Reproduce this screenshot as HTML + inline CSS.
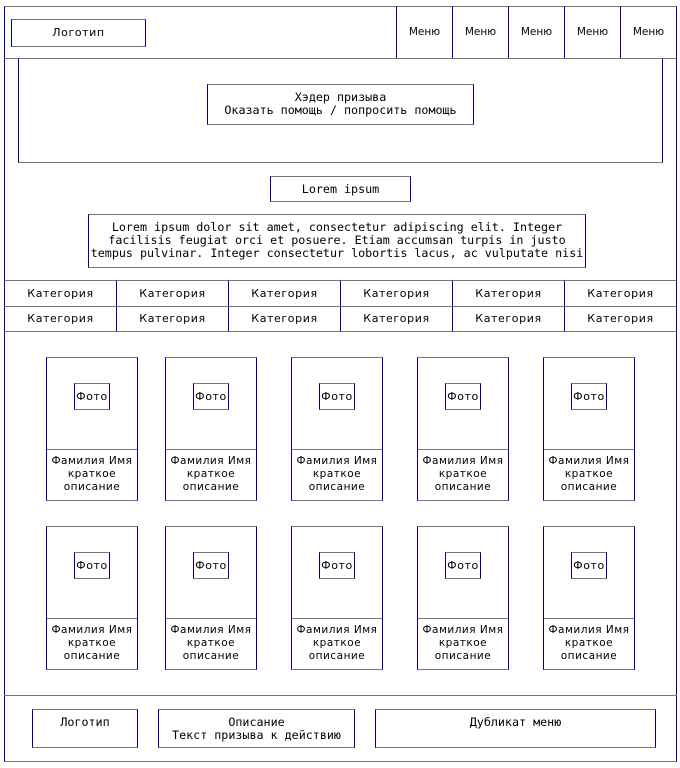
<!DOCTYPE html>
<html><head><meta charset="utf-8"><style>
*{margin:0;padding:0;box-sizing:border-box}
body{width:680px;height:768px;background:#fff;position:relative;overflow:hidden;font-family:"DejaVu Sans Mono","Liberation Mono",monospace;font-size:11.7px;color:#000}
.b{position:absolute;border-style:solid;border-width:1px;border-color:#777 #0000a0;text-align:center;line-height:13px}
.s{font-family:"DejaVu Sans","Liberation Sans",sans-serif;font-size:11px;letter-spacing:0.6px}
.c{position:absolute;width:92px;height:144px;border:1px solid;border-color:#777 #0000a0}
.c .f{position:absolute;left:27px;top:25px;width:36px;height:27px;border:1px solid;border-color:#777 #0000a0;text-align:center;line-height:25px;font-family:"DejaVu Sans","Liberation Sans",sans-serif;font-size:11px;letter-spacing:0.6px}
.c .d{position:absolute;left:0;right:0;top:91px;bottom:0;border-top:1px solid #777;text-align:center;line-height:13px;padding-top:5px;font-family:"DejaVu Sans","Liberation Sans",sans-serif;font-size:10.5px;letter-spacing:0.5px}
</style></head><body>
<div class="b" style="left:4px;top:6px;width:673px;height:756px"></div>
<div class="b" style="left:4px;top:6px;width:673px;height:53px"></div>
<div class="b s" style="left:11px;top:19px;width:135px;height:28px;line-height:26px">Логотип</div>
<div class="b s" style="left:396px;top:6px;width:57px;height:53px;line-height:51px;font-size:10.5px;letter-spacing:0">Меню</div>
<div class="b s" style="left:452px;top:6px;width:57px;height:53px;line-height:51px;font-size:10.5px;letter-spacing:0">Меню</div>
<div class="b s" style="left:508px;top:6px;width:57px;height:53px;line-height:51px;font-size:10.5px;letter-spacing:0">Меню</div>
<div class="b s" style="left:564px;top:6px;width:57px;height:53px;line-height:51px;font-size:10.5px;letter-spacing:0">Меню</div>
<div class="b s" style="left:620px;top:6px;width:57px;height:53px;line-height:51px;font-size:10.5px;letter-spacing:0">Меню</div>
<div class="b" style="left:18px;top:58px;width:645px;height:105px"></div>
<div class="b" style="left:207px;top:84px;width:267px;height:41px;padding-top:6px">Хэдер призыва<br>Оказать помощь / попросить помощь</div>
<div class="b" style="left:270px;top:176px;width:141px;height:26px;line-height:24px">Lorem ipsum</div>
<div class="b" style="left:88px;top:214px;width:498px;height:54px;padding-top:6px;white-space:nowrap">Lorem ipsum dolor sit amet, consectetur adipiscing elit. Integer<br>facilisis feugiat orci et posuere. Etiam accumsan turpis in justo<br>tempus pulvinar. Integer consectetur lobortis lacus, ac vulputate nisi</div>
<div class="b s" style="left:4px;top:280px;width:113px;height:27px;line-height:25px">Категория</div>
<div class="b s" style="left:116px;top:280px;width:113px;height:27px;line-height:25px">Категория</div>
<div class="b s" style="left:228px;top:280px;width:113px;height:27px;line-height:25px">Категория</div>
<div class="b s" style="left:340px;top:280px;width:113px;height:27px;line-height:25px">Категория</div>
<div class="b s" style="left:452px;top:280px;width:113px;height:27px;line-height:25px">Категория</div>
<div class="b s" style="left:564px;top:280px;width:113px;height:27px;line-height:25px">Категория</div>
<div class="b s" style="left:4px;top:306px;width:113px;height:26px;line-height:24px">Категория</div>
<div class="b s" style="left:116px;top:306px;width:113px;height:26px;line-height:24px">Категория</div>
<div class="b s" style="left:228px;top:306px;width:113px;height:26px;line-height:24px">Категория</div>
<div class="b s" style="left:340px;top:306px;width:113px;height:26px;line-height:24px">Категория</div>
<div class="b s" style="left:452px;top:306px;width:113px;height:26px;line-height:24px">Категория</div>
<div class="b s" style="left:564px;top:306px;width:113px;height:26px;line-height:24px">Категория</div>

<div class="c" style="left:46px;top:357px"><div class="f">Фото</div><div class="d">Фамилия Имя<br>краткое<br>описание</div></div>
<div class="c" style="left:165px;top:357px"><div class="f">Фото</div><div class="d">Фамилия Имя<br>краткое<br>описание</div></div>
<div class="c" style="left:291px;top:357px"><div class="f">Фото</div><div class="d">Фамилия Имя<br>краткое<br>описание</div></div>
<div class="c" style="left:417px;top:357px"><div class="f">Фото</div><div class="d">Фамилия Имя<br>краткое<br>описание</div></div>
<div class="c" style="left:543px;top:357px"><div class="f">Фото</div><div class="d">Фамилия Имя<br>краткое<br>описание</div></div>
<div class="c" style="left:46px;top:526px"><div class="f">Фото</div><div class="d">Фамилия Имя<br>краткое<br>описание</div></div>
<div class="c" style="left:165px;top:526px"><div class="f">Фото</div><div class="d">Фамилия Имя<br>краткое<br>описание</div></div>
<div class="c" style="left:291px;top:526px"><div class="f">Фото</div><div class="d">Фамилия Имя<br>краткое<br>описание</div></div>
<div class="c" style="left:417px;top:526px"><div class="f">Фото</div><div class="d">Фамилия Имя<br>краткое<br>описание</div></div>
<div class="c" style="left:543px;top:526px"><div class="f">Фото</div><div class="d">Фамилия Имя<br>краткое<br>описание</div></div>

<div style="position:absolute;left:4px;top:695px;width:673px;height:1px;background:#777"></div>
<div class="b" style="left:32px;top:709px;width:106px;height:39px;padding-top:6px">Логотип</div>
<div class="b" style="left:158px;top:709px;width:197px;height:39px;padding-top:6px">Описание<br>Текст призыва к действию</div>
<div class="b" style="left:375px;top:709px;width:281px;height:39px;padding-top:6px">Дубликат меню</div>
</body></html>
